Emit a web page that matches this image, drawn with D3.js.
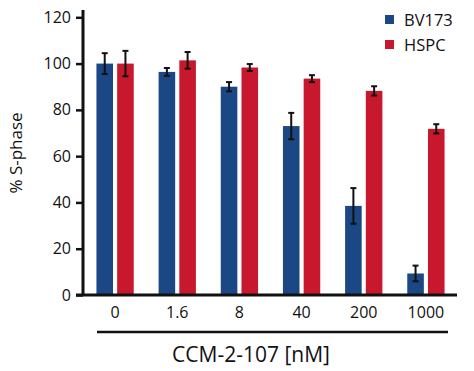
<!DOCTYPE html>
<html>
<head>
<meta charset="utf-8">
<script src="https://cdn.jsdelivr.net/npm/d3@7"></script>
<style>
  body { margin: 0; background: #fff; }
  svg text { font-family: "Open Sans", sans-serif; fill: #111; }
</style>
</head>
<body>
<svg id="chart"></svg>
<script>
// data
const doses = ["0", "1.6", "8", "40", "200", "1000"];
const seriesNames = ["BV173", "HSPC"];
const bv173 = [100, 96.4, 90, 73, 38.5, 9.3];
const bv173Err = [4.5, 1.7, 2, 5.7, 7.7, 3.4];
const hspc = [100, 101.4, 98.3, 93.5, 88.2, 71.8];
const hspcErr = [5.5, 3.6, 1.5, 1.5, 2, 2];
const yTicks = [0, 20, 40, 60, 80, 100, 120];
const colors = ["#1c4785", "#c8182d"];

const width = 474, height = 371;
const margin = {top: 17, left: 84, right: 17, bottom: 76};

const svg = d3.select('#chart')
    .attr('width', width)
    .attr('height', height);

// scales
const x = d3.scaleBand()
    .domain(doses)
    .range([margin.left, width - margin.right])
    .paddingInner(0.4)
    .paddingOuter(0.2);

const xInner = d3.scaleBand()
    .domain(seriesNames)
    .range([0, x.bandwidth()])
    .paddingInner(0.2);

const y = d3.scaleLinear()
    .domain([0, 120])
    .range([295, 17.3]);

// build rows for drawing
let rows = [];
doses.forEach((d, i) => {
    rows.push({dose: d, series: "BV173", value: bv173[i], err: bv173Err[i]});
    rows.push({dose: d, series: "HSPC", value: hspc[i], err: hspcErr[i]});
});

const color = d3.scaleOrdinal().domain(seriesNames).range(colors);

// bars
svg.append('g').selectAll('rect')
    .data(rows)
    .join('rect')
    .attr('x', d => x(d.dose) + xInner(d.series))
    .attr('y', d => y(d.value))
    .attr('width', xInner.bandwidth())
    .attr('height', d => y(0) - y(d.value))
    .attr('fill', d => color(d.series));

// error bars
const errG = svg.append('g')
    .attr('stroke', '#111')
    .attr('stroke-width', 2);

rows.forEach(d => {
    let cx = x(d.dose) + xInner(d.series) + xInner.bandwidth() / 2;
    errG.append('line')
        .attr('x1', cx).attr('x2', cx)
        .attr('y1', y(d.value + d.err)).attr('y2', y(d.value - d.err));
    errG.append('line')
        .attr('x1', cx - 3).attr('x2', cx + 3)
        .attr('y1', y(d.value + d.err)).attr('y2', y(d.value + d.err));
    errG.append('line')
        .attr('x1', cx - 3).attr('x2', cx + 3)
        .attr('y1', y(d.value - d.err)).attr('y2', y(d.value - d.err));
});

// y axis
const yAxis = svg.append('g')
    .attr('transform', `translate(${margin.left - 1},0)`)
    .call(d3.axisLeft(y).tickValues(yTicks).tickSize(7).tickPadding(5));
yAxis.select('.domain').attr('d', `M0,10V${y(0)}`).attr('stroke-width', 3).attr('stroke', '#111');
yAxis.selectAll('.tick line').attr('stroke-width', 2.5).attr('stroke', '#111');
yAxis.selectAll('.tick text').attr('font-size', 16).attr('font-family', '"Open Sans", sans-serif').attr('fill', '#111');

// x axis
const xAxis = svg.append('g')
    .attr('transform', `translate(0,${y(0)})`)
    .call(d3.axisBottom(x).tickSize(0).tickPadding(12));
xAxis.select('.domain').attr('d', `M76,0H457`).attr('stroke-width', 3).attr('stroke', '#111');
xAxis.selectAll('.tick text').attr('font-size', 16).attr('font-family', '"Open Sans", sans-serif').attr('fill', '#111');

// bracket line under the dose labels
svg.append('line')
    .attr('x1', 97).attr('x2', 448)
    .attr('y1', 332).attr('y2', 332)
    .attr('stroke', '#111')
    .attr('stroke-width', 2.5);

// axis titles
svg.append('text')
    .attr('x', 251)
    .attr('y', 362)
    .attr('text-anchor', 'middle')
    .attr('font-size', 21)
    .text('CCM-2-107 [nM]');

svg.append('text')
    .attr('transform', 'translate(22,153) rotate(-90)')
    .attr('text-anchor', 'middle')
    .attr('font-size', 17)
    .text('% S-phase');

// legend
const legend = svg.append('g')
    .attr('transform', 'translate(385,0)');
seriesNames.forEach((s, i) => {
    legend.append('rect')
        .attr('x', 0)
        .attr('y', 15 + i * 25)
        .attr('width', 9)
        .attr('height', 9)
        .attr('fill', colors[i]);
    legend.append('text')
        .attr('x', 19)
        .attr('y', 25.5 + i * 25)
        .attr('font-size', 16.5)
        .text(s);
});
</script>
</body>
</html>
